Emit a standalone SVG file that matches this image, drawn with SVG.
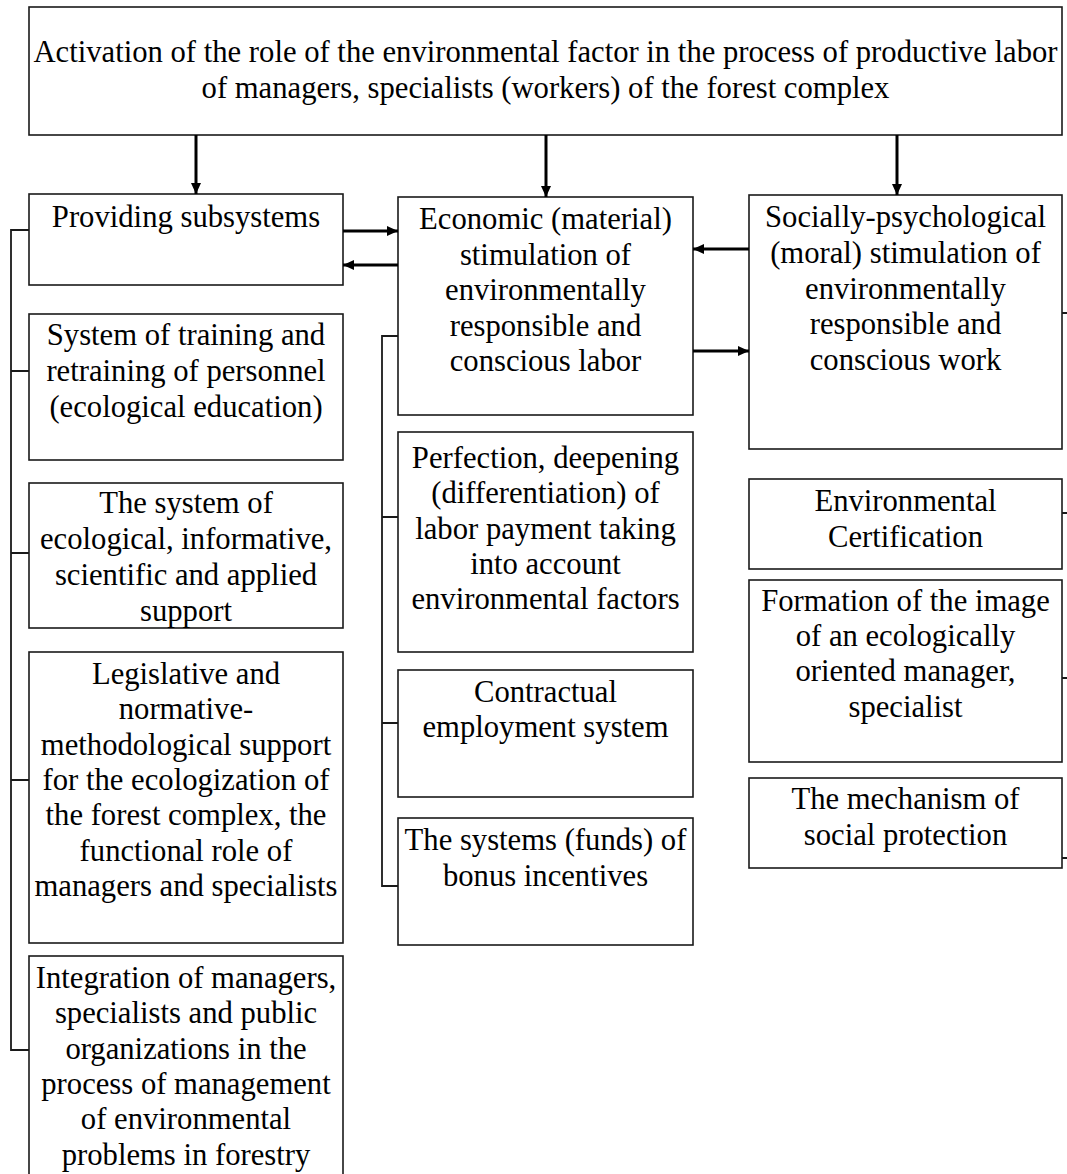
<svg xmlns="http://www.w3.org/2000/svg" width="1067" height="1174" viewBox="0 0 1067 1174">
<style>
.box{fill:#fff;stroke:#1a1a1a;stroke-width:1.6}
.t{font-family:"Liberation Serif","Times New Roman",serif;font-size:30.67px;fill:#000;text-anchor:middle}
.arr{fill:none;stroke:#000;stroke-width:3;marker-end:url(#ah)}
.br{fill:none;stroke:#1a1a1a;stroke-width:1.8}
</style>
<defs>
<marker id="ah" markerUnits="userSpaceOnUse" markerWidth="12" markerHeight="12" refX="11" refY="6" orient="auto">
<path d="M0,1 L11,6 L0,11 z" fill="#000"/>
</marker>
</defs>
<rect width="1067" height="1174" fill="#fff"/>
<g id="top">
<rect class="box" x="29" y="7" width="1033" height="128"/>
<text class="t" x="545.5" y="62">Activation of the role of the environmental factor in the process of productive labor</text>
<text class="t" x="545.5" y="98">of managers, specialists (workers) of the forest complex</text>
</g>
<g id="providing">
<rect class="box" x="29" y="194" width="314" height="91"/>
<text class="t" x="186" y="227">Providing subsystems</text>
</g>
<g id="economic">
<rect class="box" x="398" y="197" width="295" height="218"/>
<text class="t" x="545.5" y="229">Economic (material)</text>
<text class="t" x="545.5" y="264.5">stimulation of</text>
<text class="t" x="545.5" y="300">environmentally</text>
<text class="t" x="545.5" y="335.5">responsible and</text>
<text class="t" x="545.5" y="371">conscious labor</text>
</g>
<g id="socially">
<rect class="box" x="749" y="195" width="313" height="254"/>
<text class="t" x="905.5" y="227">Socially-psychological</text>
<text class="t" x="905.5" y="262.8">(moral) stimulation of</text>
<text class="t" x="905.5" y="298.6">environmentally</text>
<text class="t" x="905.5" y="334.4">responsible and</text>
<text class="t" x="905.5" y="370">conscious work</text>
</g>
<g id="training">
<rect class="box" x="29" y="314" width="314" height="146"/>
<text class="t" x="186" y="345">System of training and</text>
<text class="t" x="186" y="381">retraining of personnel</text>
<text class="t" x="186" y="417">(ecological education)</text>
</g>
<g id="info">
<rect class="box" x="29" y="483" width="314" height="145"/>
<text class="t" x="186" y="513">The system of</text>
<text class="t" x="186" y="549">ecological, informative,</text>
<text class="t" x="186" y="585">scientific and applied</text>
<text class="t" x="186" y="621">support</text>
</g>
<g id="legislative">
<rect class="box" x="29" y="652" width="314" height="291"/>
<text class="t" x="186" y="684">Legislative and</text>
<text class="t" x="186" y="719.3">normative-</text>
<text class="t" x="186" y="754.6">methodological support</text>
<text class="t" x="186" y="790">for the ecologization of</text>
<text class="t" x="186" y="825.2">the forest complex, the</text>
<text class="t" x="186" y="860.5">functional role of</text>
<text class="t" x="186" y="895.8">managers and specialists</text>
</g>
<g id="integration">
<rect class="box" x="29" y="956" width="314" height="230"/>
<text class="t" x="186" y="988">Integration of managers,</text>
<text class="t" x="186" y="1023.3">specialists and public</text>
<text class="t" x="186" y="1058.6">organizations in the</text>
<text class="t" x="186" y="1094">process of management</text>
<text class="t" x="186" y="1129.2">of environmental</text>
<text class="t" x="186" y="1164.5">problems in forestry</text>
</g>
<g id="perfection">
<rect class="box" x="398" y="432" width="295" height="220"/>
<text class="t" x="545.5" y="468">Perfection, deepening</text>
<text class="t" x="545.5" y="503.3">(differentiation) of</text>
<text class="t" x="545.5" y="538.6">labor payment taking</text>
<text class="t" x="545.5" y="574">into account</text>
<text class="t" x="545.5" y="609.2">environmental factors</text>
</g>
<g id="contractual">
<rect class="box" x="398" y="670" width="295" height="127"/>
<text class="t" x="545.5" y="702">Contractual</text>
<text class="t" x="545.5" y="737">employment system</text>
</g>
<g id="bonus">
<rect class="box" x="398" y="818" width="295" height="127"/>
<text class="t" x="545.5" y="850">The systems (funds) of</text>
<text class="t" x="545.5" y="886">bonus incentives</text>
</g>
<g id="certification">
<rect class="box" x="749" y="479" width="313" height="90"/>
<text class="t" x="905.5" y="511">Environmental</text>
<text class="t" x="905.5" y="547">Certification</text>
</g>
<g id="image">
<rect class="box" x="749" y="580" width="313" height="182"/>
<text class="t" x="905.5" y="611">Formation of the image</text>
<text class="t" x="905.5" y="646">of an ecologically</text>
<text class="t" x="905.5" y="681">oriented manager,</text>
<text class="t" x="905.5" y="716.5">specialist</text>
</g>
<g id="protection">
<rect class="box" x="749" y="778" width="313" height="90"/>
<text class="t" x="905.5" y="809">The mechanism of</text>
<text class="t" x="905.5" y="845">social protection</text>
</g>
<g id="connectors">
<line class="arr" x1="196" y1="135" x2="196" y2="194"/>
<line class="arr" x1="546" y1="135" x2="546" y2="197"/>
<line class="arr" x1="897" y1="135" x2="897" y2="195"/>
<line class="arr" x1="343" y1="231" x2="398" y2="231"/>
<line class="arr" x1="398" y1="265" x2="343" y2="265"/>
<line class="arr" x1="749" y1="249" x2="693" y2="249"/>
<line class="arr" x1="693" y1="351" x2="749" y2="351"/>
<path class="br" d="M29,230 H11 V1050 H29 M11,371 H29 M11,553 H29 M11,780 H29"/>
<path class="br" d="M398,336 H382 V886 H398 M382,517 H398 M382,723 H398"/>
<path class="br" d="M1062,313 H1070 V858 H1062 M1062,513 H1070 M1062,678 H1070"/>
</g>
</svg>
